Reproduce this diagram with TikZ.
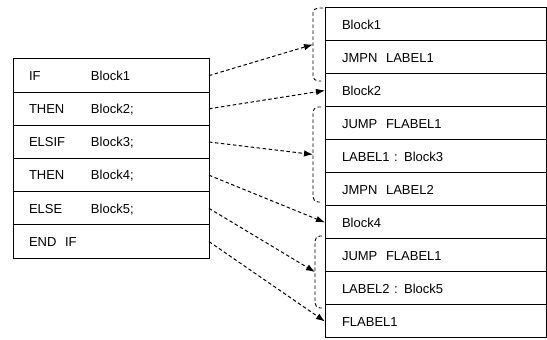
\documentclass[tikz,border=0pt]{standalone}
\usepackage{fontspec}
\setmainfont{Liberation Sans}
\usetikzlibrary{positioning,calc,arrows.meta}
\tikzset{
        cell/.style={draw, rectangle, outer sep=0pt, inner ysep=0pt, line width=1pt,
            font=\fontsize{13}{15}\selectfont, text height=9.4pt, text depth=0pt, align=left},
        % Rows of the IF statement
        row_src/.style={cell, minimum height=33.2pt, text width=164pt, inner xsep=16pt},
        % Rows of the generated code
        row_code/.style={cell, minimum height=33pt, text width=187pt, inner xsep=17pt},
        % Jumps from statement to code
        jump_arrow/.style={-{Latex[length=9pt,width=6.5pt]}, line width=1pt, dash pattern=on 3.5pt off 2.5pt},
        % Brackets round a group of code rows
        group_brace/.style={line width=0.9pt, dash pattern=on 3.5pt off 2.5pt, rounded corners=5pt}
}
\newcommand{\kw}[1]{\makebox[62pt][l]{#1}}

\begin{document}
\begin{tikzpicture}[x=1pt, y=1pt]
    \useasboundingbox (0,0) rectangle (547,340);

    % IF statement
    \node[row_src, anchor=north west] (s1) at (13,281) {\kw{IF}Block1};
    \node[row_src, below=0pt of s1] (s2) {\kw{THEN}Block2;};
    \node[row_src, below=0pt of s2] (s3) {\kw{ELSIF}Block3;};
    \node[row_src, below=0pt of s3] (s4) {\kw{THEN}Block4;};
    \node[row_src, below=0pt of s4] (s5) {\kw{ELSE}Block5;};
    \node[row_src, below=0pt of s5] (s6) {END\ \ IF};

    % generated code
    \node[row_code, anchor=north west] (c1) at (325,332) {Block1};
    \node[row_code, below=0pt of c1] (c2) {JMPN\ \ LABEL1};
    \node[row_code, below=0pt of c2] (c3) {Block2};
    \node[row_code, below=0pt of c3] (c4) {JUMP\ \ FLABEL1};
    \node[row_code, below=0pt of c4] (c5) {LABEL1 : Block3};
    \node[row_code, below=0pt of c5] (c6) {JMPN\ \ LABEL2};
    \node[row_code, below=0pt of c6] (c7) {Block4};
    \node[row_code, below=0pt of c7] (c8) {JUMP\ \ FLABEL1};
    \node[row_code, below=0pt of c8] (c9) {LABEL2 : Block5};
    \node[row_code, below=0pt of c9] (c10) {FLABEL1};

    % brackets
    \draw[group_brace] ($(c1.north west)+(-2,0)$) -- ++(-10,0) coordinate (g1t)
        -- ($(c2.south west)+(-12,-7)$) coordinate (g1b) -- ++(8,0);
    \draw[group_brace] ($(c4.north west)+(-4,0)$) -- ++(-8,0) coordinate (g2t)
        -- ($(c6.south west)+(-12,4)$) coordinate (g2b) -- ++(7,0);
    \draw[group_brace] ($(c8.north west)+(-3,3)$) -- ++(-7,0) coordinate (g3t)
        -- ($(c9.south west)+(-10,-3)$) coordinate (g3b) -- ++(7,0);
    \coordinate (g1) at ($(g1t)!0.5!(g1b)$);
    \coordinate (g2) at ($(g2t)!0.5!(g2b)$);
    \coordinate (g3) at ($(g3t)!0.5!(g3b)$);

    % jumps
    \draw[jump_arrow] (s1.east) -- (g1);
    \draw[jump_arrow] (s2.east) -- (c3.west);
    \draw[jump_arrow] (s3.east) -- (g2);
    \draw[jump_arrow] (s4.east) -- (c7.west);
    \draw[jump_arrow] (s5.east) -- (g3);
    \draw[jump_arrow] (s6.east) -- (c10.west);
\end{tikzpicture}
\end{document}
